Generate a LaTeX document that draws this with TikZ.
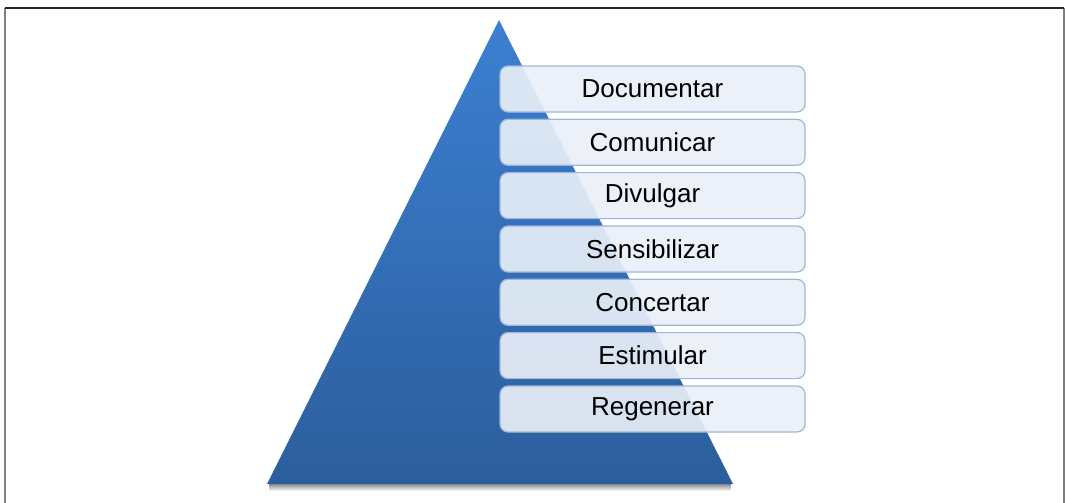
\documentclass[tikz,border=0pt]{standalone}
\usepackage{fontspec}
\setmainfont{Liberation Sans}
\usepackage{tikz}
\usetikzlibrary{positioning,shadows,fadings,calc}
\definecolor{pyrtop}{HTML}{3C7FD2}
\definecolor{pyrbot}{HTML}{2C5E9C}
\definecolor{boxfill}{HTML}{EAF0F8}
\definecolor{boxline}{HTML}{9FB7D6}
\tikzset{%
  level box/.style={%
    draw=boxline,
    line width=0.6pt,
    fill=boxfill,
    fill opacity=0.91,
    text opacity=1,
    rounded corners=4pt,
    minimum width=152.5pt,
    minimum height=23pt,
    inner sep=0pt,
    font=\fontsize{13pt}{15pt}\selectfont
  }
}
\tikzset{%
  frame line/.style={%
    line width=1pt,
    color=gray
  }
}

\begin{document}
\begin{tikzpicture}[x=0.5pt,y=-0.5pt]
  \useasboundingbox (0,0) rectangle (1066,503);
  % outer frame
  \coordinate (fl) at (5,503);
  \coordinate (ftl) at (5,8);
  \coordinate (ftr) at (1064,8);
  \coordinate (fr) at (1064,503);
  \draw [frame line] (fl) -- (ftl);
  \draw [frame line] (fr) -- (ftr);
  \draw [line width=1pt, black!85] (ftl) -- (ftr);
  % pyramid
  \coordinate (apex) at (499,20);
  \coordinate (baseL) at (267,484);
  \coordinate (baseR) at (733,484);
  \fill [black!45, path fading=south] ($(baseL)+(2,0)$) rectangle ($(baseR)+(-2,7)$);
  \shade [top color=pyrtop, bottom color=pyrbot] (apex) -- (baseR) -- (baseL) -- cycle;
  % levels
  \node [level box] (doc) at (652.5,89) {Documentar};
  \node [level box] (com) at (652.5,142.3) {Comunicar};
  \node [level box] (div) at (652.5,195.6) {Divulgar};
  \node [level box] (sen) at (652.5,249) {Sensibilizar};
  \node [level box] (con) at (652.5,302.3) {Concertar};
  \node [level box] (est) at (652.5,355.6) {Estimular};
  \node [level box] (reg) at (652.5,409) {Regenerar};
\end{tikzpicture}
\end{document}
